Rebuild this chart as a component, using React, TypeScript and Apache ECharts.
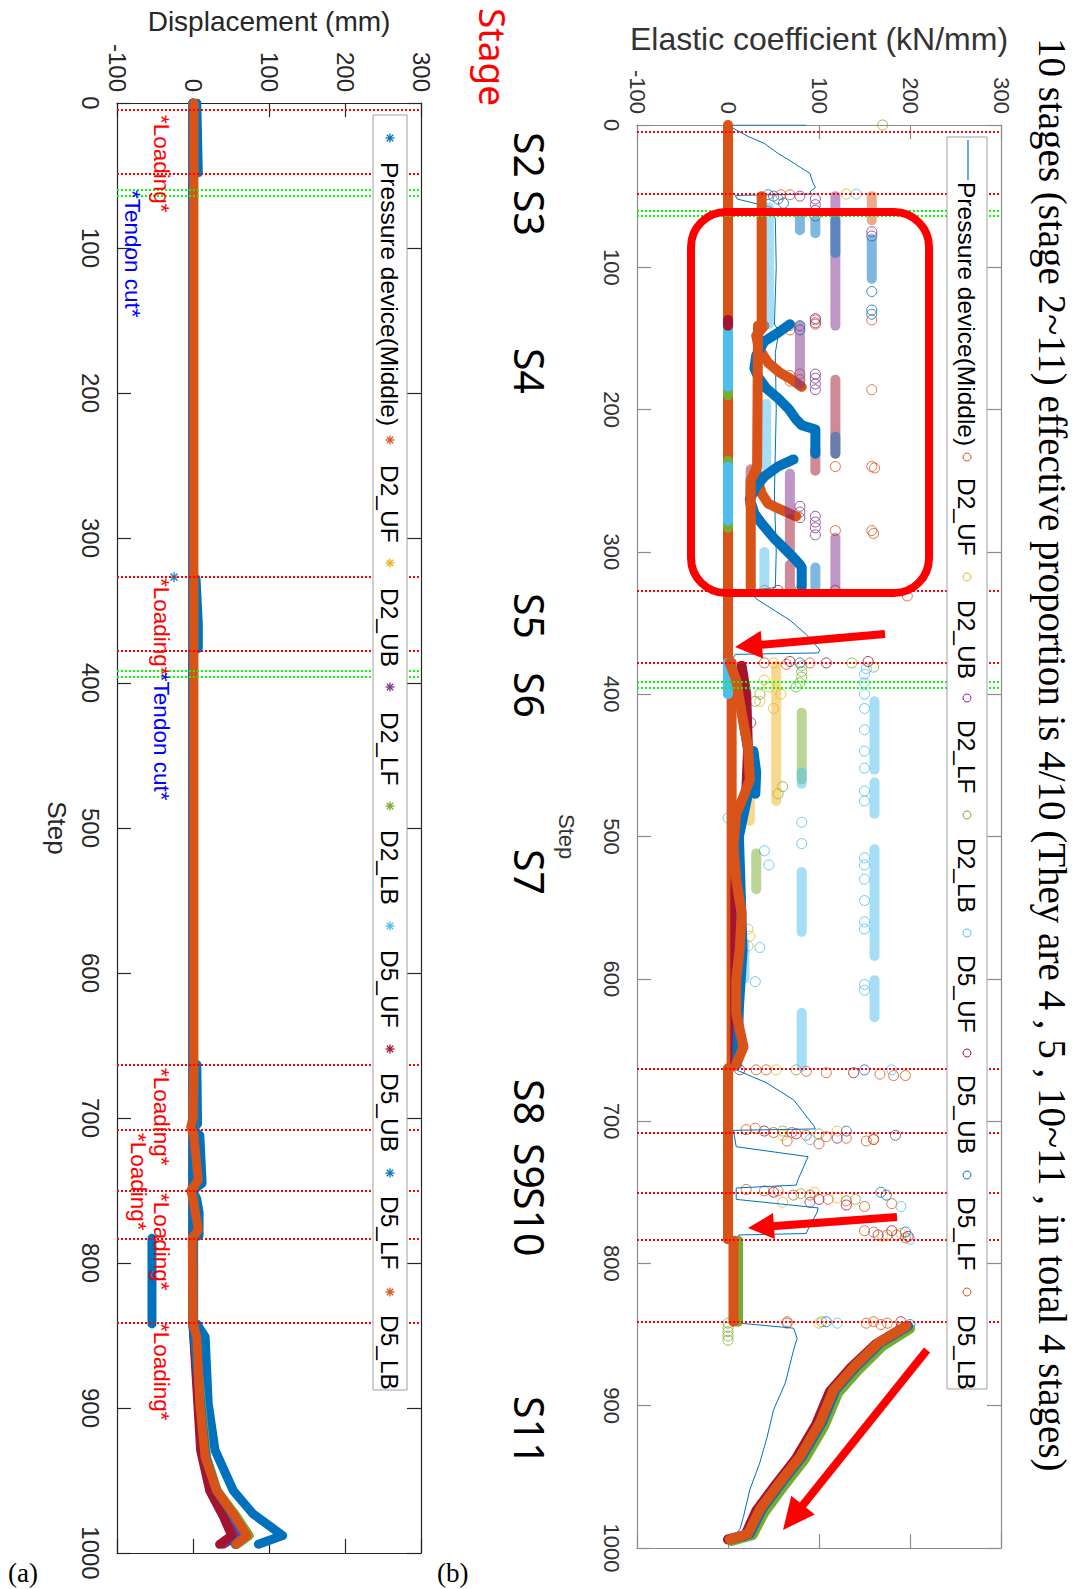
import React, { useEffect, useRef } from "react";
import * as echarts from "echarts";

type Pt = [number, number]; // [step, value]

const PAGE_W = 1080;
const PAGE_H = 1589;

const NAMES = ["Pressure device(Middle)", "D2_UF", "D2_UB", "D2_LF", "D2_LB", "D5_UF", "D5_UB", "D5_LF", "D5_LB"];
const COLORS = ["#0072BD", "#D95319", "#EDB120", "#7E2F8E", "#77AC30", "#4DBEEE", "#A2142F", "#0072BD", "#D95319"];

const VALUE_MIN = -100;
const VALUE_MAX = 300;
const VALUE_INTERVAL = 100;
const STEP_MIN = 0;
const STEP_MAX = 1000;
const STEP_INTERVAL = 100;

// stage boundaries
const LOADING_STEPS = [4.5, 48.5, 327, 378, 663, 708, 750, 783.5, 841];
const TENDON_CUT_STEPS = [60, 64, 391.5, 395.5];

// ---------- (a) displacement (mm) ----------
const DISP_PRESSURE: Pt[][] = [
  [[0, 5], [48, 7], [49, 0], [326, 0]],
  [[328, 4], [360, 7], [376, 7], [378, 0], [662, 0], [663, 5], [704, 6], [708, 0], [712, 9], [745, 12], [750, 0], [756, 5], [765, 8], [781, 8], [783, 0]],
  [[783, -54], [842, -54]],
  [[842, 5], [851, 16], [897, 20], [929, 29], [957, 53], [973, 79], [988, 118], [994, 86]],
];
const DISP_PRESSURE_POINTS: Pt[] = [[327, -25]];
const DISP_D2_UF: Pt[][] = [[[0, 0], [842, 0], [897, 10], [934, 17], [957, 30], [973, 52], [988, 70], [994, 56]]];
const DISP_D2_UB: Pt[][] = [[[0, 0], [842, 0], [897, 10], [934, 17], [957, 30], [973, 51], [988, 69], [994, 55]]];
const DISP_D2_LF: Pt[][] = [[[0, 0], [842, 0], [929, 12], [957, 26], [975, 45], [988, 58], [994, 40]]];
const DISP_D2_LB: Pt[][] = [[[0, 1], [842, 1], [897, 11], [934, 18], [957, 32], [973, 55], [988, 74], [994, 58]]];
const DISP_D5_UF: Pt[][] = [[[0, 0], [842, 0], [897, 10], [934, 17], [957, 30], [973, 52], [988, 70], [994, 56]]];
const DISP_D5_UB: Pt[][] = [[[0, 0], [842, 0], [929, 10], [957, 22], [975, 40], [988, 51], [994, 35]]];
const DISP_D5_LF: Pt[][] = [[[0, 0], [842, 0], [897, 10], [934, 17], [957, 31], [973, 52], [988, 70], [994, 56]]];
const DISP_D5_LB: Pt[][] = [[[0, 1], [662, 1], [700, 0], [706, -3], [712, 1], [743, 7], [750, -3], [756, 0], [777, 7], [783, -1], [842, 0], [851, 5], [897, 9], [934, 16], [957, 31], [973, 53], [988, 71], [994, 57]]];

// ---------- (b) elastic coefficient (kN/mm) ----------
const EC_PRESSURE: Pt[] = [
  [0, 86], [0, 4], [2, 5], [8, 22], [13, 40], [20, 55], [25, 68], [30, 80], [34, 90], [40, 93], [44, 96], [47, 90], [48.5, 92], [49.5, 8], [52, 10], [58, 48], [66, 52],
  [100, 53], [140, 51], [145, 56], [160, 52], [200, 53], [230, 52], [260, 51], [300, 53], [325, 52],
  [327, 25], [333, 31], [348, 68], [358, 86], [369, 101], [371, 99], [372, 8], [378, 3],
  [390, 6], [420, 12], [450, 20], [470, 22], [490, 10], [520, 6], [560, 12], [600, 9], [640, 12], [662, 5],
  [664, 9], [673, 42], [685, 72], [703, 94], [705.5, 96], [706.5, 6], [718, 9], [725, 88], [741, 77], [745, 75], [747, 9], [755, 9], [761, 99], [764, 98], [776, 88], [779, 86], [780, 12], [783, 10],
  [842, 13], [845.5, 72], [852.7, 76], [861, 72], [884, 63], [903, 50], [922, 43], [940, 35], [959, 24], [978, 17], [987, 13], [994, 2],
];

const EC_D2_UF_BANDS: Pt[][] = [
  [[0, 0], [378, 0]], [[378, 4], [662, 4]], [[663, 0], [783, 0]],
  [[141, 40], [148, 31], [154, 33], [160, 37], [167, 44], [174, 57], [178, 68], [184, 81]],
  [[242, 31], [250, 33], [259, 37], [266, 44], [270, 57], [275, 75]],
];
const EC_D2_UF_COLUMNS: Pt[][] = [[[50, 158], [67, 158]]];
const EC_D2_UF_DOTS: Pt[] = [
  [137, 158], [186, 158], [240, 158], [241, 161], [285, 158], [287, 160], [240, 118], [285, 118], [141, 68], [144, 68], [176, 68], [180, 68], [137, 96], [140, 96], [175, 79], [179, 79], [331, 197],
  [49, 68], [378, 90], [379, 64], [664, 42], [666, 108], [668, 182], [706, 20], [708, 50], [710, 86], [712, 130], [714, 152], [749, 40], [752, 72], [755, 110], [758, 180], [777, 150], [780, 175], [782, 195], [841, 65], [842, 152], [843, 168],
];

const EC_D2_UB_COLUMNS: Pt[][] = [[[380, 53], [475, 53]], [[472, 24], [489, 24]]];
const EC_D2_UB_DOTS: Pt[] = [
  [48.5, 130], [565, 22], [570, 24], [577, 22], [390, 40], [395, 45], [405, 35], [664, 53], [707, 120], [710, 60], [712, 160], [750, 95], [754, 120], [757, 60], [779, 190], [781, 170], [842, 100], [378, 50], [400, 58], [410, 50],
];

const EC_D2_LF_COLUMNS: Pt[][] = [[[50, 118], [141, 118]], [[141, 79], [182, 79]], [[245, 68], [273, 68]], [[290, 118], [325, 118]]];
const EC_D2_LF_DOTS: Pt[] = [
  [50, 79], [52, 96], [56, 96], [60, 96], [64, 96], [136, 96], [139, 96], [175, 96], [178, 96], [182, 96], [186, 96], [275, 96], [279, 96], [283, 96], [288, 96], [268, 79], [272, 79], [276, 79],
  [75, 158], [78, 158], [327, 118], [710, 184], [712, 120], [757, 90], [780, 165], [845, 190], [420, 25], [440, 24],
];

const EC_D2_LB_BANDS: Pt[][] = [
  [[184, 0], [190, 0]], [[236, 0], [240, 0]], [[278, 0], [283, 0]], [[784, 11], [841, 11]],
  [[846, 200], [858, 170], [875, 143], [891, 121], [914, 106], [938, 84], [956, 62], [975, 40], [991, 27], [995, 4]],
];
const EC_D2_LB_COLUMNS: Pt[][] = [[[413, 81], [460, 81]], [[512, 31], [537, 31]]];
const EC_D2_LB_DOTS: Pt[] = [
  [0, 170], [381, 160], [378, 136], [380, 81], [384, 81], [388, 81], [392, 79], [395, 75], [400, 35], [405, 30], [465, 60], [470, 55],
  [842, 0], [845, 0], [848, 0], [851, 0], [854, 0], [664, 75], [707, 60], [709, 100], [751, 80], [755, 140], [841, 103],
];

const EC_D5_UF_BANDS: Pt[][] = [[[142, 0], [184, 0]], [[240, 0], [278, 0]], [[378, 0], [400, 0]]];
const EC_D5_UF_COLUMNS: Pt[][] = [
  [[58, 45], [140, 45]], [[196, 42], [242, 42]], [[300, 40], [325, 40]], [[575, 18], [600, 18]],
  [[405, 161], [453, 161]], [[462, 161], [484, 161]], [[509, 161], [584, 161]], [[601, 161], [627, 161]],
  [[455, 81], [463, 81]], [[525, 81], [567, 81]], [[624, 81], [662, 81]],
];
const EC_D5_UF_DOTS: Pt[] = [
  [48.5, 141], [382, 152], [386, 150], [392, 150], [400, 150], [410, 150], [425, 150], [440, 150], [452, 150], [468, 150], [475, 150], [515, 150], [520, 150], [530, 150], [545, 150], [560, 150], [565, 150], [604, 150], [608, 150],
  [487, 0], [490, 81], [505, 81], [510, 40], [520, 45], [578, 35], [602, 30], [664, 180], [713, 90], [760, 190], [783, 200], [842, 120],
];

const EC_D5_UB_BANDS: Pt[][] = [
  [[137, 0], [141, 0]],
  [[380, 15], [400, 20], [440, 22], [470, 20], [500, 10], [540, 8], [580, 8], [620, 8], [660, 8]],
  [[845, 193], [857, 162], [874, 134], [890, 112], [913, 97], [937, 75], [955, 53], [974, 31], [991, 19], [994, 0]],
];
const EC_D5_UB_COLUMNS: Pt[][] = [[[179, 118], [231, 118]], [[228, 96], [243, 96]], [[242, 25], [266, 24]], [[277, 68], [301, 68]], [[309, 68], [325, 68]]];
const EC_D5_UB_DOTS: Pt[] = [
  [327, 55], [377, 68], [378, 108], [377, 154], [664, 13], [666, 138], [707, 40], [709, 75], [713, 160], [750, 50], [755, 100], [759, 130], [777, 180], [781, 198], [841, 190],
];

const EC_D5_LF_BANDS: Pt[][] = [
  [[140, 68], [146, 55], [152, 40], [162, 31], [171, 29], [178, 34], [185, 42], [192, 55], [199, 66], [207, 75], [211, 81], [214, 96], [231, 96]],
  [[235, 72], [240, 55], [247, 40], [254, 31], [263, 24], [273, 29], [280, 37], [290, 50], [297, 61], [304, 72], [309, 79], [311, 81], [325, 81]],
  [[440, 28], [455, 31], [470, 30]],
  [[470, 22], [500, 12], [540, 14], [580, 16], [620, 12], [660, 10]],
  [[844, 198], [856, 167], [873, 140], [889, 118], [912, 103], [936, 81], [954, 59], [973, 37], [990, 24], [994, 3]],
];
const EC_D5_LF_COLUMNS: Pt[][] = [[[80, 158], [108, 158]], [[67, 118], [90, 118]], [[219, 118], [231, 118]], [[67, 96], [76, 96]], [[65, 79], [74, 79]], [[311, 96], [325, 96]]];
const EC_D5_LF_DOTS: Pt[] = [
  [49, 44], [50, 50], [52, 55], [55, 61], [117, 158], [130, 158], [133, 158], [141, 79], [144, 79], [327, 79], [378, 79], [664, 150], [707, 130], [750, 168], [752, 174], [778, 195], [843, 200], [841, 108],
];

const EC_D5_LB_BANDS: Pt[][] = [
  [[50, 37], [141, 37]],
  [[141, 33], [240, 32], [250, 25], [325, 25]],
  [[378, 2], [390, 9], [413, 15], [437, 22], [460, 24], [472, 17], [484, 9], [507, 6], [530, 9], [554, 15], [578, 13], [601, 9], [624, 9], [648, 17], [660, 9]],
  [[663, 0], [783, 0]],
  [[784, 6], [841, 6]],
  [[844, 196], [856, 165], [873, 138], [889, 116], [912, 101], [936, 79], [954, 57], [973, 35], [990, 22], [994, 2]],
];
const EC_D5_LB_DOTS: Pt[] = [
  [49, 58], [327, 40], [378, 40], [664, 31], [665, 86], [667, 167], [668, 195], [705, 30], [708, 70], [711, 108], [714, 65], [716, 100], [748, 20], [749, 55], [752, 90], [756, 130], [760, 150], [778, 160], [780, 185], [842, 65], [841, 160], [842, 175],
];

// ---------- layout ----------
const GRID_A = { left: 117, top: 103, width: 304, height: 1450 };
const GRID_B = { left: 637, top: 125, width: 364, height: 1423 };
const FONT = "Liberation Sans";
const AXIS_A = "#262626";
const AXIS_B = "#8c8c8c";
const LABEL_B = "#333333";

const ax = (v: number) => GRID_A.left + ((v - VALUE_MIN) / (VALUE_MAX - VALUE_MIN)) * GRID_A.width;
const ay = (s: number) => GRID_A.top + ((s - STEP_MIN) / (STEP_MAX - STEP_MIN)) * GRID_A.height;

const ANNOTATIONS_A = [
  { text: "*Loading*", step: 8.3, value: -41, color: "#FF0000" },
  { text: "*Tendon cut*", step: 60, value: -79, color: "#0000FF" },
  { text: "*Loading*", step: 327.6, value: -41, color: "#FF0000" },
  { text: "*Tendon cut*", step: 393, value: -41, color: "#0000FF" },
  { text: "*Loading*", step: 665.5, value: -41, color: "#FF0000" },
  { text: "*Loading*", step: 710.3, value: -72, color: "#FF0000" },
  { text: "*Loading*", step: 751.7, value: -41, color: "#FF0000" },
  { text: "*Loading*", step: 841.4, value: -41, color: "#FF0000" },
];

const STAGE_LABELS: [string, number][] = [
  ["S2", 132], ["S3", 190], ["S4", 348], ["S5", 593], ["S6", 672], ["S7", 849], ["S8", 1079], ["S9", 1143], ["S10", 1187], ["S11", 1396],
];

const TITLE_B = "10 stages (stage 2~11) effective proportion is 4/10 (They are 4 , 5 , 10~11 , in total 4 stages)";

function vText(x: number, y: number, text: string, size: number, color: string, family: string) {
  return {
    type: "text",
    x,
    y,
    rotation: -Math.PI / 2,
    z: 100,
    silent: true,
    style: {
      text,
      fill: color,
      font: `${size}px ${family}`,
      textAlign: "left",
      textVerticalAlign: "middle",
      align: "left",
      verticalAlign: "middle",
    },
  };
}

function asterisk(cx: number, cy: number, r: number, color: string) {
  const d = r * 0.707;
  return [
    [-r, 0, r, 0],
    [0, -r, 0, r],
    [-d, -d, d, d],
    [-d, d, d, -d],
  ].map(([a, b, c, e]) => ({
    type: "line",
    z: 101,
    silent: true,
    shape: { x1: cx + a, y1: cy + b, x2: cx + c, y2: cy + e },
    style: { stroke: color, lineWidth: 1.3 },
  }));
}

function arrow(x1: number, y1: number, x2: number, y2: number, headLen: number, headHalf: number, width: number) {
  const dx = x2 - x1;
  const dy = y2 - y1;
  const L = Math.hypot(dx, dy);
  const ux = dx / L;
  const uy = dy / L;
  const bx = x2 - ux * headLen;
  const by = y2 - uy * headLen;
  const px = -uy;
  const py = ux;
  return [
    { type: "line", z: 101, silent: true, shape: { x1, y1, x2: bx + ux * 2, y2: by + uy * 2 }, style: { stroke: "#FF0000", lineWidth: width } },
    {
      type: "polygon",
      z: 101,
      silent: true,
      shape: { points: [[x2, y2], [bx + px * headHalf, by + py * headHalf], [bx - px * headHalf, by - py * headHalf]] },
      style: { fill: "#FF0000" },
    },
  ];
}

function lineSegs(segs: Pt[][], color: string, xi: number, yi: number, width: number, opacity = 1) {
  return segs.map((seg) => ({
    type: "line",
    xAxisIndex: xi,
    yAxisIndex: yi,
    silent: true,
    symbol: "none",
    data: seg.map(([s, v]) => [v, s]),
    lineStyle: { color, width, opacity, cap: "round", join: "round" },
  }));
}

function circles(pts: Pt[], color: string, xi: number, yi: number) {
  return {
    type: "scatter",
    xAxisIndex: xi,
    yAxisIndex: yi,
    silent: true,
    symbol: "circle",
    symbolSize: 10,
    data: pts.map(([s, v]) => [v, s]),
    itemStyle: { color: "rgba(0,0,0,0)", borderColor: color, borderWidth: 1 },
  };
}

function stageMarkLine() {
  return {
    silent: true,
    symbol: ["none", "none"],
    label: { show: false },
    data: [
      ...LOADING_STEPS.map((s) => ({ yAxis: s, lineStyle: { color: "#FF0000", type: "dotted", width: 2 } })),
      ...TENDON_CUT_STEPS.map((s) => ({ yAxis: s, lineStyle: { color: "#00FF00", type: "dotted", width: 2 } })),
    ],
  };
}

const plainNumber = (v: number) => String(v);

function valueAxes(gridIndex: number, color: string, labelColor: string, labelSize: number, name: string, nameSize: number, nameGap: number) {
  const common = {
    gridIndex,
    type: "value",
    min: VALUE_MIN,
    max: VALUE_MAX,
    interval: VALUE_INTERVAL,
    axisLine: { show: true, onZero: false, lineStyle: { color, width: 1.2 } },
    axisTick: { show: true, inside: true, length: 14, lineStyle: { color, width: 1.2 } },
    splitLine: { show: false },
  };
  return [
    {
      ...common,
      position: "top",
      // the top axis mirrors the rotation, so +90 reads top-to-bottom here
      axisLabel: { rotate: 90, margin: 11, fontSize: labelSize, color: labelColor, fontFamily: FONT, formatter: plainNumber },
      name,
      nameLocation: "middle",
      nameGap,
      nameTextStyle: { fontSize: nameSize, color: labelColor, fontFamily: FONT },
    },
    { ...common, position: "bottom", axisLabel: { show: false } },
  ];
}

function stepAxes(gridIndex: number, color: string, labelColor: string, labelSize: number, nameGap: number, nameSize: number) {
  const common = {
    gridIndex,
    type: "value",
    min: STEP_MIN,
    max: STEP_MAX,
    interval: STEP_INTERVAL,
    inverse: true,
    axisLine: { show: true, onZero: false, lineStyle: { color, width: 1.2 } },
    axisTick: { show: true, inside: true, length: 14, lineStyle: { color, width: 1.2 } },
    splitLine: { show: false },
  };
  return [
    {
      ...common,
      position: "left",
      axisLabel: { rotate: -90, margin: 15, fontSize: labelSize, color: labelColor, fontFamily: FONT, formatter: plainNumber },
      name: "Step",
      nameLocation: "middle",
      nameRotate: -90,
      nameGap,
      nameTextStyle: { fontSize: nameSize, color: labelColor, fontFamily: FONT },
    },
    { ...common, position: "right", axisLabel: { show: false } },
  ];
}

function buildOption() {
  const series: any[] = [];

  // (a) displacement traces
  const dispSets: Pt[][][] = [DISP_PRESSURE, DISP_D2_UF, DISP_D2_UB, DISP_D2_LF, DISP_D2_LB, DISP_D5_UF, DISP_D5_UB, DISP_D5_LF, DISP_D5_LB];
  dispSets.forEach((segs, i) => {
    const s = lineSegs(segs, COLORS[i], 0, 0, 9);
    if (i === 0) (s[0] as any).markLine = stageMarkLine();
    series.push(...s);
  });
  series.push({
    type: "scatter",
    xAxisIndex: 0,
    yAxisIndex: 0,
    silent: true,
    symbol: "path://M5,0L5,10M0,5L10,5M1.5,1.5L8.5,8.5M8.5,1.5L1.5,8.5",
    symbolSize: 10,
    data: DISP_PRESSURE_POINTS.map(([s, v]) => [v, s]),
    itemStyle: { color: "none", borderColor: COLORS[0], borderWidth: 1.5 },
  });

  // (b) elastic coefficient
  series.push({
    type: "line",
    xAxisIndex: 2,
    yAxisIndex: 2,
    silent: true,
    symbol: "none",
    data: EC_PRESSURE.map(([s, v]) => [v, s]),
    lineStyle: { color: COLORS[0], width: 1 },
    markLine: stageMarkLine(),
    z: 3,
  });
  const ecSets: { bands?: Pt[][]; columns?: Pt[][]; dots?: Pt[] }[] = [
    { bands: EC_D2_UF_BANDS, columns: EC_D2_UF_COLUMNS, dots: EC_D2_UF_DOTS },
    { columns: EC_D2_UB_COLUMNS, dots: EC_D2_UB_DOTS },
    { columns: EC_D2_LF_COLUMNS, dots: EC_D2_LF_DOTS },
    { bands: EC_D2_LB_BANDS, columns: EC_D2_LB_COLUMNS, dots: EC_D2_LB_DOTS },
    { bands: EC_D5_UF_BANDS, columns: EC_D5_UF_COLUMNS, dots: EC_D5_UF_DOTS },
    { bands: EC_D5_UB_BANDS, columns: EC_D5_UB_COLUMNS, dots: EC_D5_UB_DOTS },
    { bands: EC_D5_LF_BANDS, columns: EC_D5_LF_COLUMNS, dots: EC_D5_LF_DOTS },
    { bands: EC_D5_LB_BANDS, dots: EC_D5_LB_DOTS },
  ];
  ecSets.forEach((set, k) => {
    const color = COLORS[k + 1];
    if (set.columns) series.push(...lineSegs(set.columns, color, 2, 2, 10, 0.5));
    if (set.bands) series.push(...lineSegs(set.bands, color, 2, 2, 10));
    if (set.dots) series.push(circles(set.dots, color, 2, 2));
  });

  // ---- graphic overlay: legends, annotations, stage labels ----
  const g: any[] = [];
  // legend (a)
  g.push({ type: "rect", z: 99, silent: true, shape: { x: 373, y: 115, width: 34, height: 1275 }, style: { fill: "#fff", stroke: "#a0a0a0", lineWidth: 1 } });
  const legA = [[138, 162], [440, 465], [563, 588], [687, 712], [806, 830], [926, 950], [1049, 1073], [1173, 1196], [1292, 1315]];
  legA.forEach(([my, ty], i) => {
    g.push(...asterisk(390, my, 4.5, COLORS[i]));
    g.push(vText(389, ty, NAMES[i], 24.5, "#000", FONT));
  });
  // legend (b)
  g.push({ type: "rect", z: 99, silent: true, shape: { x: 947, y: 137, width: 40, height: 1252 }, style: { fill: "#fff", stroke: "#a0a0a0", lineWidth: 1 } });
  const legB = [[160, 182], [457, 478], [577, 600], [698, 720], [815, 838], [933, 955], [1053, 1075], [1175, 1197], [1292, 1315]];
  legB.forEach(([my, ty], i) => {
    if (i === 0) {
      g.push({ type: "line", z: 101, silent: true, shape: { x1: 968, y1: 140, x2: 968, y2: 180 }, style: { stroke: COLORS[0], lineWidth: 1.2 } });
    } else {
      g.push({ type: "circle", z: 101, silent: true, shape: { cx: 967, cy: my, r: 4 }, style: { fill: "none", stroke: COLORS[i], lineWidth: 1 } });
    }
    g.push(vText(966, ty, NAMES[i], 24.5, "#000", FONT));
  });
  // annotations in (a)
  ANNOTATIONS_A.forEach((a) => g.push(vText(ax(a.value), ay(a.step), a.text, 22.5, a.color, FONT)));
  // highlighted region and arrows in (b)
  g.push({ type: "rect", z: 100, silent: true, shape: { x: 691, y: 212, width: 238, height: 381, r: 35 }, style: { fill: "none", stroke: "#FF0000", lineWidth: 8 } });
  g.push(...arrow(885, 634, 735, 647, 27, 14, 8));
  g.push(...arrow(897, 1217, 748, 1228, 26, 13, 8));
  g.push(...arrow(927, 1350, 783, 1530, 32, 15, 8));
  // stage labels
  g.push(vText(493, 8, "Stage", 37, "#FF0000", '"Noto Sans"'));
  STAGE_LABELS.forEach(([t, y]) => g.push(vText(530, y, t, 41, "#000", '"Noto Sans"')));
  // title of (b)
  g.push(vText(1052, 38, TITLE_B, 39, "#000", '"Liberation Serif", "Noto Sans CJK SC"'));
  // panel tags
  g.push({ type: "text", z: 100, silent: true, x: 8, y: 1573, style: { text: "(a)", fill: "#000", font: '27px "Liberation Serif"', textVerticalAlign: "middle", verticalAlign: "middle" } });
  g.push({ type: "text", z: 100, silent: true, x: 437, y: 1573, style: { text: "(b)", fill: "#000", font: '27px "Liberation Serif"', textVerticalAlign: "middle", verticalAlign: "middle" } });

  return {
    animation: false,
    backgroundColor: "#ffffff",
    textStyle: { fontFamily: FONT },
    grid: [
      { ...GRID_A, containLabel: false, outerBoundsMode: "none" },
      { ...GRID_B, containLabel: false, outerBoundsMode: "none" },
    ],
    xAxis: [
      ...valueAxes(0, AXIS_A, AXIS_A, 24, "Displacement (mm)", 28, 68),
      ...valueAxes(1, AXIS_B, LABEL_B, 22, "Elastic coefficient (kN/mm)", 32, 70),
    ],
    yAxis: [...stepAxes(0, AXIS_A, AXIS_A, 24, 47, 26), ...stepAxes(1, AXIS_B, LABEL_B, 22, 60, 22)],
    series,
    graphic: { elements: g },
  };
}

export default function App() {
  const ref = useRef<HTMLDivElement>(null);
  useEffect(() => {
    if (!ref.current) return;
    const chart = echarts.init(ref.current, undefined, { renderer: "svg" });
    chart.setOption(buildOption() as any);
    return () => chart.dispose();
  }, []);
  return (
    <div
      ref={ref}
      style={{ position: "absolute", left: 0, top: 0, width: PAGE_W, height: PAGE_H, background: "#fff" }}
    />
  );
}
